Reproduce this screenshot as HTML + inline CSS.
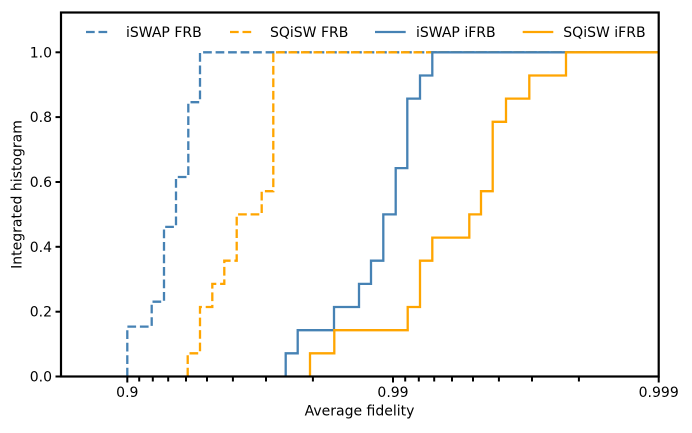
<!DOCTYPE html>
<html><head><meta charset="utf-8"><style>
html,body{margin:0;padding:0;background:#fff;}
svg{display:block;}
text{font-family:"DejaVu Sans","Liberation Sans",sans-serif;fill:#000;}
</style></head><body>
<svg width="692" height="433" viewBox="0 0 692 433" xmlns="http://www.w3.org/2000/svg">
<defs><clipPath id="ax"><rect x="61" y="12.5" width="597.7" height="364"/></clipPath></defs>
<rect width="692" height="433" fill="#fff"/>
<g clip-path="url(#ax)" fill="none" stroke-width="2.3" stroke-linejoin="miter">
<path d="M127.3,376.5 V326.6 H151.7 V301.7 H164 V226.9 H176 V177 H188.3 V102.2 H200 V52.3 H662" stroke="#4682b4" stroke-dasharray="8.7 3.8"/>
<path d="M187.7,376.5 V353.3 H200 V307 H212.3 V283.9 H224.3 V260.7 H236.7 V214.4 H261.7 V191.2 H273.3 V52.3 H662" stroke="#ffa500" stroke-dasharray="8.7 3.8"/>
<path d="M285.7,376.5 V353.3 H297.7 V330.2 H334 V307 H359 V283.9 H371 V260.7 H383.3 V214.4 H395.7 V168.1 H407.3 V98.6 H420 V75.5 H432.3 V52.3 H662" stroke="#4682b4"/>
<path d="M310,376.5 V353.3 H334.3 V330.2 H407.7 V307 H420 V260.7 H432.3 V237.6 H469.3 V214.4 H481 V191.2 H492.7 V121.8 H506 V98.6 H529.3 V75.5 H566 V52.3 H662" stroke="#ffa500"/>
</g>
<rect x="61" y="12.5" width="597.7" height="364" fill="none" stroke="#000" stroke-width="2.2"/>
<g stroke="#000" stroke-width="2">
<line x1="61" y1="376.5" x2="55.5" y2="376.5"/>
<line x1="61" y1="311.7" x2="55.5" y2="311.7"/>
<line x1="61" y1="246.8" x2="55.5" y2="246.8"/>
<line x1="61" y1="182" x2="55.5" y2="182"/>
<line x1="61" y1="117.1" x2="55.5" y2="117.1"/>
<line x1="61" y1="52.3" x2="55.5" y2="52.3"/>
<line x1="127.3" y1="376.5" x2="127.3" y2="382.5"/>
<line x1="393" y1="376.5" x2="393" y2="382.5"/>
<line x1="658.7" y1="376.5" x2="658.7" y2="382.5"/>
<g>
<line x1="139.2" y1="376.5" x2="139.2" y2="381.5"/>
<line x1="152.8" y1="376.5" x2="152.8" y2="381.5"/>
<line x1="168.2" y1="376.5" x2="168.2" y2="381.5"/>
<line x1="186" y1="376.5" x2="186" y2="381.5"/>
<line x1="207" y1="376.5" x2="207" y2="381.5"/>
<line x1="232.9" y1="376.5" x2="232.9" y2="381.5"/>
<line x1="266" y1="376.5" x2="266" y2="381.5"/>
<line x1="312.9" y1="376.5" x2="312.9" y2="381.5"/>
<line x1="405.2" y1="376.5" x2="405.2" y2="381.5"/>
<line x1="418.8" y1="376.5" x2="418.8" y2="381.5"/>
<line x1="434.2" y1="376.5" x2="434.2" y2="381.5"/>
<line x1="452" y1="376.5" x2="452" y2="381.5"/>
<line x1="473" y1="376.5" x2="473" y2="381.5"/>
<line x1="498.9" y1="376.5" x2="498.9" y2="381.5"/>
<line x1="532" y1="376.5" x2="532" y2="381.5"/>
<line x1="578.9" y1="376.5" x2="578.9" y2="381.5"/>
</g>
</g>
<g font-size="14" text-anchor="end">
<text x="52" y="381.5">0.0</text>
<text x="52" y="316.7">0.2</text>
<text x="52" y="251.8">0.4</text>
<text x="52" y="187">0.6</text>
<text x="52" y="122.1">0.8</text>
<text x="52" y="57.3">1.0</text>
</g>
<g font-size="14" text-anchor="middle">
<text x="127.3" y="397.2">0.9</text>
<text x="393" y="397.2">0.99</text>
<text x="658.7" y="397.2">0.999</text>
<text x="359.5" y="415.5">Average fidelity</text>
<text transform="translate(21.5,194.5) rotate(-90)">Integrated histogram</text>
</g>
<g fill="none" stroke-width="2.3">
<line x1="86" y1="32" x2="110" y2="32" stroke="#4682b4" stroke-dasharray="8.7 3.8"/>
<line x1="230" y1="32" x2="255" y2="32" stroke="#ffa500" stroke-dasharray="8.7 3.8"/>
<line x1="375" y1="32" x2="405.7" y2="32" stroke="#4682b4"/>
<line x1="522.7" y1="32" x2="553.3" y2="32" stroke="#ffa500"/>
</g>
<g font-size="14">
<text x="126" y="37">iSWAP FRB</text>
<text x="270" y="37">SQiSW FRB</text>
<text x="416" y="37">iSWAP iFRB</text>
<text x="563.3" y="37">SQiSW iFRB</text>
</g>
</svg>
</body></html>
